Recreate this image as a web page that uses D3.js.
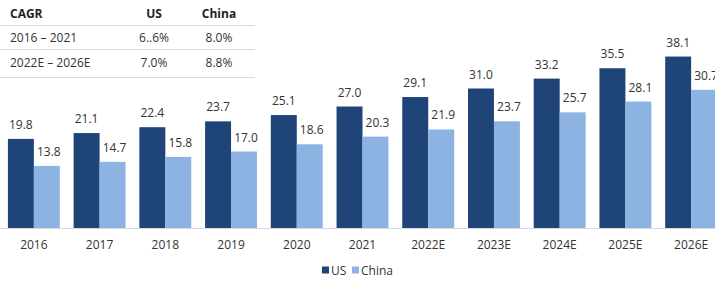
<!DOCTYPE html>
<html>
<head>
<meta charset="utf-8">
<script src="https://cdn.jsdelivr.net/npm/d3@7"></script>
<style>
  body { margin: 0; background: #fff; }
  text { font-family: "Open Sans", sans-serif; fill: #333; }
</style>
</head>
<body>
<script>
const years = ["2016", "2017", "2018", "2019", "2020", "2021", "2022E", "2023E", "2024E", "2025E", "2026E"];
const usValues = [19.8, 21.1, 22.4, 23.7, 25.1, 27.0, 29.1, 31.0, 33.2, 35.5, 38.1];
const chinaValues = [13.8, 14.7, 15.8, 17.0, 18.6, 20.3, 21.9, 23.7, 25.7, 28.1, 30.7];
const seriesNames = ["US", "China"];
const cagrHeader = ["CAGR", "US", "China"];
const cagrRows = [
  ["2016 \u2013 2021", "6..6%", "8.0%"],
  ["2022E \u2013 2026E", "7.0%", "8.8%"]
];

const w = 715, h = 284;
const colors = { US: "#1f4478", China: "#8db3e2" };

const svg = d3.select("body")
  .append("svg")
  .attr("width", w)
  .attr("height", h);

const x0 = d3.scaleBand().domain(years).range([1, 724]).paddingInner(0.21).paddingOuter(0.105);
const x1 = d3.scaleBand().domain(seriesNames).range([0, x0.bandwidth()]);
const y = d3.scaleLinear().domain([0, 40]).range([228, 48]);

const data = years.map((yr, i) => ({ year: yr, US: usValues[i], China: chinaValues[i] }));

// baseline
svg.append("line")
  .attr("x1", 0).attr("x2", w)
  .attr("y1", y(0) + 0.5).attr("y2", y(0) + 0.5)
  .attr("stroke", "#d9d9d9");

const groups = svg.selectAll("g.grp")
  .data(data)
  .enter()
  .append("g")
  .attr("class", "grp")
  .attr("transform", d => `translate(${x0(d.year)},0)`);

groups.selectAll("rect")
  .data(d => seriesNames.map(k => ({ key: k, value: d[k] })))
  .enter()
  .append("rect")
  .attr("x", d => x1(d.key))
  .attr("width", x1.bandwidth())
  .attr("y", d => y(d.value))
  .attr("height", d => y(0) - y(d.value))
  .attr("fill", d => colors[d.key]);

groups.selectAll("text.val")
  .data(d => seriesNames.map(k => ({ key: k, value: d[k] })))
  .enter()
  .append("text")
  .attr("class", "val")
  .attr("x", d => x1(d.key) + x1.bandwidth() / 2 + (d.key === "China" ? 2 : 0))
  .attr("y", d => y(d.value) - 10)
  .attr("text-anchor", "middle")
  .style("font-size", "12px")
  .text(d => d.value.toFixed(1));

// x axis labels
const xAxis = d3.axisBottom(x0).tickSize(0).tickPadding(12);
const axisG = svg.append("g")
  .attr("transform", `translate(0,${y(0)})`)
  .call(xAxis);
axisG.select(".domain").remove();
axisG.selectAll("text")
  .style("font-size", "12px")
  .style("font-family", "'Open Sans', sans-serif")
  .attr("fill", "#333");

// legend
const legend = svg.append("g").attr("transform", "translate(322,270)");
const legendItems = [{ key: "US", x: 0 }, { key: "China", x: 30 }];
legendItems.forEach(it => {
  legend.append("rect")
    .attr("x", it.x).attr("y", -3.5)
    .attr("width", 7).attr("height", 7)
    .attr("fill", colors[it.key]);
  legend.append("text")
    .attr("x", it.x + 9).attr("y", 4.5)
    .style("font-size", "12px")
    .text(it.key);
});

// CAGR table
const table = svg.append("g");
const colX = [10, 154, 219];
const colAnchor = ["start", "middle", "middle"];
cagrHeader.forEach((t, j) => {
  table.append("text")
    .attr("x", colX[j]).attr("y", 18)
    .attr("text-anchor", colAnchor[j])
    .style("font-size", "12px")
    .style("font-weight", "bold")
    .style("fill", "#222")
    .text(t);
});
[25, 49, 77].forEach(ly => {
  table.append("line")
    .attr("x1", 0).attr("x2", 255)
    .attr("y1", ly + 0.5).attr("y2", ly + 0.5)
    .attr("stroke", "#dcdcdc");
});
cagrRows.forEach((row, i) => {
  row.forEach((t, j) => {
    table.append("text")
      .attr("x", colX[j]).attr("y", 42 + i * 25)
      .attr("text-anchor", colAnchor[j])
      .style("font-size", "12px")
      .text(t);
  });
});
</script>
</body>
</html>
